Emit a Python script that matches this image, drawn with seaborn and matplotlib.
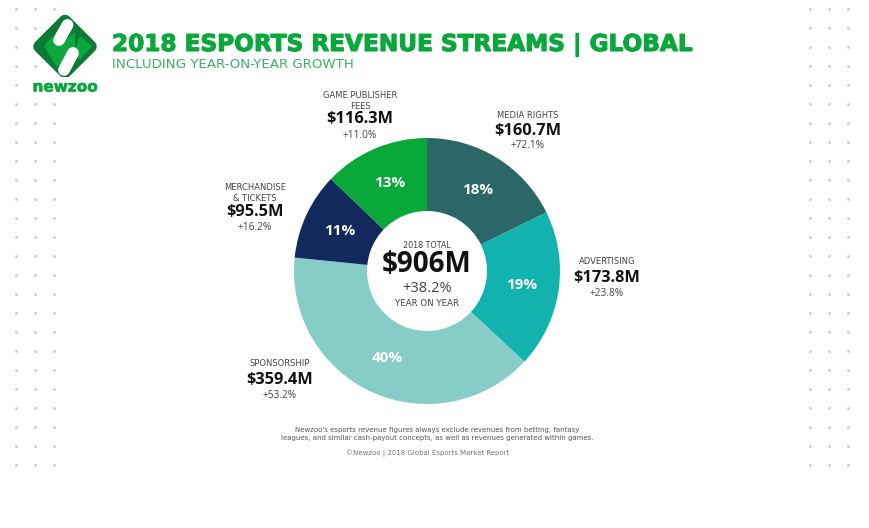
import numpy as np
import pandas as pd
import seaborn as sns
import matplotlib
matplotlib.use("Agg")
import matplotlib.pyplot as plt
import matplotlib.patheffects as pe
from matplotlib.patches import Polygon

# ---- data ----
streams = ["MEDIA RIGHTS", "ADVERTISING", "SPONSORSHIP", "MERCHANDISE\n& TICKETS", "GAME PUBLISHER\nFEES"]
revenue = [160.7, 173.8, 359.4, 95.5, 116.3]
growth = ["+72.1%", "+23.8%", "+53.2%", "+16.2%", "+11.0%"]
colors = ["#2b6766", "#12b3ae", "#85cdc6", "#12295e", "#08a838"]

title = "2018 ESPORTS REVENUE STREAMS | GLOBAL"
subtitle = "INCLUDING YEAR-ON-YEAR GROWTH"
footer = ("Newzoo's esports revenue figures always exclude revenues from betting, fantasy\n"
          "leagues, and similar cash-payout concepts, as well as revenues generated within games.")
source = "©Newzoo | 2018 Global Esports Market Report"

W, H = 870, 528
sns.set_theme(style="white")
plt.rcParams["font.family"] = ["DejaVu Sans"]
OPEN = ["Open Sans", "DejaVu Sans"]
GREEN = "#0aa83c"
GREY = "#444444"

fig = plt.figure(figsize=(W / 100, H / 100), dpi=100, facecolor="white")
ax = fig.add_axes([0, 0, 1, 1])
ax.set_xlim(0, W)
ax.set_ylim(H, 0)
ax.axis("off")

# dotted background
grid = [(x, y) for x in (16, 35, 54, 810, 829, 848) for y in range(9, 466, 19)]
dots = pd.DataFrame(grid, columns=["x", "y"])
sns.scatterplot(data=dots, x="x", y="y", ax=ax, s=5, color="#d2d2d2", linewidth=0, legend=False, zorder=1)
ax.set_xlabel("")
ax.set_ylabel("")

# logo
cx, cy, h = 65, 46.5, 25.5
ax.add_patch(Polygon([(cx, cy - h), (cx + h, cy), (cx, cy + h), (cx - h, cy)], closed=True, fc="#0b7a35",
                     ec="#0b7a35", lw=9, joinstyle="round", zorder=3))
ax.add_patch(Polygon([(44, 46), (52, 37), (60, 41), (60, 66), (56, 66)], fc=GREEN, ec="none", zorder=4))
ax.add_patch(Polygon([(60, 44), (75, 32), (75, 47), (60, 66)], fc=GREEN, ec="none", zorder=4))
ax.add_patch(Polygon([(80, 36), (92, 46), (80, 60), (74, 52)], fc=GREEN, ec="none", zorder=4))
ax.plot([67.5, 59], [25, 40], color="white", lw=8.5, solid_capstyle="round", zorder=5)
ax.plot([73, 64], [53, 70], color="white", lw=8.5, solid_capstyle="round", zorder=5)
ax.text(65, 87, "newzoo", color=GREEN, fontsize=11, fontweight="bold", ha="center", va="center", zorder=6,
        bbox=dict(fc="white", ec="none", pad=2), path_effects=[pe.withStroke(linewidth=0.4, foreground=GREEN)])

# titles
ax.text(112, 44.5, title, color=GREEN, fontsize=16.7, fontweight="bold", ha="left", va="center",
        path_effects=[pe.withStroke(linewidth=0.8, foreground=GREEN)])
ax.text(112, 65, subtitle, color="#3fae6a", fontsize=9.6, ha="left", va="center")

# donut
R, r0, pcx, pcy = 133, 60, 427, 271
pax = fig.add_axes([(pcx - R) / W, 1 - (pcy + R) / H, 2 * R / W, 2 * R / H])
wedges, _, autotexts = pax.pie(revenue, colors=colors, startangle=90, counterclock=False, radius=1,
                               wedgeprops=dict(width=1 - r0 / R, linewidth=0),
                               autopct="%.0f%%", pctdistance=0.72)
pax.set_xlim(-1, 1)
pax.set_ylim(-1, 1)
for t in autotexts:
    t.set_color("white")
    t.set_fontsize(11)
    t.set_fontweight("bold")
    t.set_family(OPEN)
ax.set_zorder(5)
ax.patch.set_alpha(0)

# callouts: centre x, name y, value y, growth y
layout = [(528, 115, 131, 146), (607, 262, 278, 294), (280, 364, 380, 396), (255, 193, 212, 228), (360, 101, 119, 135)]
for name, val, g, (x, yn, yv, yg) in zip(streams, revenue, growth, layout):
    ax.text(x, yn, name, color=GREY, fontsize=6, ha="center", va="center", linespacing=1.2)
    ax.text(x, yv, f"${val}M", color="#111111", fontsize=11.8, fontweight="bold", family=OPEN, ha="center", va="center")
    ax.text(x, yg, g, color=GREY, fontsize=7.3, family=OPEN, ha="center", va="center")

# centre text
ax.text(427, 245, "2018 TOTAL", color=GREY, fontsize=5.8, ha="center", va="center")
ax.text(427, 264, "$906M", color="#111111", fontsize=20, fontweight="bold", family=OPEN, ha="center", va="center")
ax.text(427, 288, "+38.2%", color=GREY, fontsize=10.5, family=OPEN, ha="center", va="center")
ax.text(427, 303, "YEAR ON YEAR", color=GREY, fontsize=6.2, ha="center", va="center")

# footer
ax.text(437, 434, footer, color="#555555", fontsize=5.0, ha="center", va="center", linespacing=1.45)
ax.text(428, 453, source, color="#777777", fontsize=5, ha="center", va="center")

fig.savefig("out.png", dpi=100, facecolor="white")
